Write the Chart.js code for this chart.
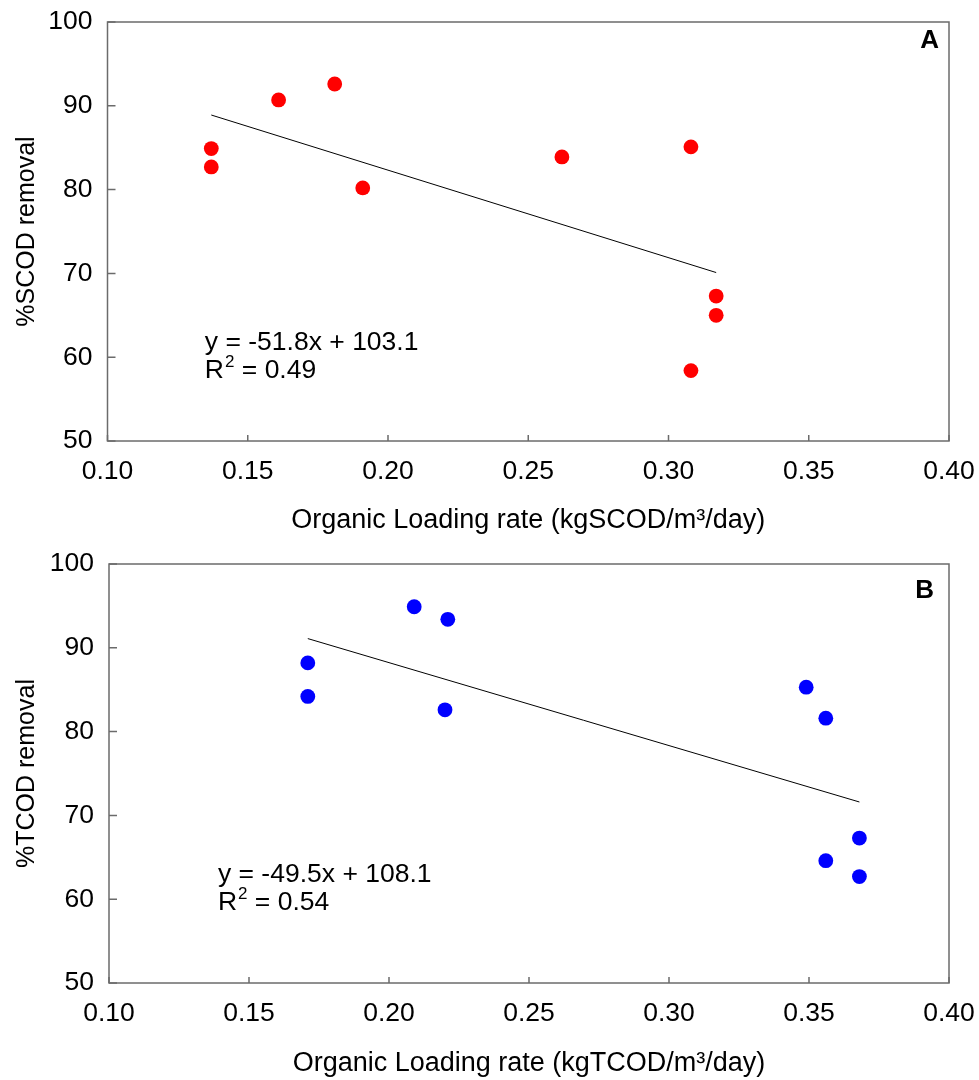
<!DOCTYPE html>
<html>
<head>
<meta charset="utf-8">
<script src="https://cdn.jsdelivr.net/npm/chart.js@4/dist/chart.umd.min.js"></script>
<style>
  body { margin: 0; background: #fff; }
  .wrap { position: absolute; left: 0; width: 979px; height: 540px; }
</style>
</head>
<body>
<div class="wrap" style="top:0"><canvas id="chartA" width="979" height="540"></canvas></div>
<div class="wrap" style="top:540px"><canvas id="chartB" width="979" height="540"></canvas></div>
<script>
// valores
const xTicks = [0.10, 0.15, 0.20, 0.25, 0.30, 0.35, 0.40];
const yTicks = [50, 60, 70, 80, 90, 100];

// painel A - SCOD
const olrA = [0.137, 0.137, 0.161, 0.181, 0.191, 0.262, 0.308, 0.317, 0.317, 0.308];
const remocaoA = [84.9, 82.7, 90.7, 92.6, 80.2, 83.9, 85.1, 67.3, 65.0, 58.4];
const trendAx = [0.137, 0.317];
const trendAy = [88.9, 70.1];

// painel B - TCOD
const olrB = [0.171, 0.171, 0.209, 0.221, 0.220, 0.349, 0.356, 0.368, 0.356, 0.368];
const remocaoB = [88.2, 84.2, 94.9, 93.4, 82.6, 85.3, 81.6, 67.3, 64.6, 62.7];
const trendBx = [0.171, 0.368];
const trendBy = [91.1, 71.6];

const FONT = "'Liberation Sans', Arial, sans-serif";
const AXIS_COLOR = '#6b6b6b';

function noOverflow(s) {
  s.paddingLeft = 0;
  s.paddingRight = 0;
  s.paddingTop = 0;
  s.paddingBottom = 0;
}

const frameTicks = {
  id: 'frameTicks',
  afterDraw(chart, args, opts) {
    const { ctx, chartArea: a, scales } = chart;
    ctx.save();
    ctx.strokeStyle = AXIS_COLOR;
    ctx.lineWidth = 1.5;
    ctx.strokeRect(a.left, a.top, a.right - a.left, a.bottom - a.top);
    ctx.beginPath();
    scales.x.ticks.forEach((t) => {
      const px = scales.x.getPixelForValue(t.value);
      ctx.moveTo(px, a.bottom);
      ctx.lineTo(px, a.bottom - 6);
    });
    scales.y.ticks.forEach((t) => {
      const py = scales.y.getPixelForValue(t.value);
      ctx.moveTo(a.left, py);
      ctx.lineTo(a.left + 8, py);
    });
    ctx.stroke();

    // equação e R2
    ctx.fillStyle = '#000';
    ctx.font = `26.5px ${FONT}`;
    ctx.textAlign = 'left';
    ctx.textBaseline = 'alphabetic';
    const ex = scales.x.getPixelForValue(opts.eqAt[0]);
    const ey = scales.y.getPixelForValue(opts.eqAt[1]);
    ctx.fillText(opts.equation, ex, ey);
    ctx.fillText('R', ex, ey + 28);
    const rw = ctx.measureText('R').width;
    ctx.font = `17px ${FONT}`;
    ctx.fillText('2', ex + rw + 1, ey + 17);
    const sw = ctx.measureText('2').width;
    ctx.font = `26.5px ${FONT}`;
    ctx.fillText(' = ' + opts.r2, ex + rw + sw + 1, ey + 28);

    // letra do painel
    ctx.font = `bold 26px ${FONT}`;
    ctx.textAlign = 'right';
    ctx.textBaseline = 'top';
    ctx.fillText(opts.letter, a.right - opts.letterDx, a.top + opts.letterDy);
    ctx.restore();
  },
};

function makeChart(canvasId, xs, ys, tx, ty, color, opts) {
  const ctx = document.getElementById(canvasId).getContext('2d');
  return new Chart(ctx, {
    type: 'scatter',
    data: {
      datasets: [
        {
          data: xs.map((x, i) => ({ x, y: ys[i] })),
          backgroundColor: color,
          borderWidth: 0,
          pointRadius: 7.4,
        },
        {
          type: 'line',
          data: tx.map((x, i) => ({ x, y: ty[i] })),
          borderColor: '#000',
          borderWidth: 1,
          pointRadius: 0,
          fill: false,
        },
      ],
    },
    options: {
      responsive: false,
      animation: false,
      events: [],
      layout: { padding: { top: opts.top, right: 30, left: 0, bottom: 0 } },
      plugins: {
        legend: { display: false },
        tooltip: { enabled: false },
        frameTicks: opts.frame,
      },
      scales: {
        x: {
          type: 'linear',
          min: 0.1,
          max: 0.4,
          afterBuildTicks: (s) => { s.ticks = xTicks.map((v) => ({ value: v })); },
          afterFit: (s) => { s.height = opts.xHeight; noOverflow(s); },
          grid: { drawOnChartArea: false, drawTicks: false },
          border: { display: false },
          ticks: {
            padding: 15,
            color: '#000',
            font: { family: FONT, size: 26.5 },
            callback: (v) => Number(v).toFixed(2),
          },
          title: {
            display: true,
            text: opts.xTitle,
            color: '#000',
            font: { family: FONT, size: 27 },
            padding: { top: 0, bottom: opts.xTitlePad },
          },
        },
        y: {
          type: 'linear',
          min: 50,
          max: 100,
          afterBuildTicks: (s) => { s.ticks = yTicks.map((v) => ({ value: v })); },
          afterFit: (s) => { s.width = opts.yWidth; noOverflow(s); },
          grid: { drawOnChartArea: false, drawTicks: false },
          border: { display: false },
          ticks: {
            padding: 15,
            color: '#000',
            font: { family: FONT, size: 26.5 },
            callback: (v) => String(v),
          },
          title: {
            display: true,
            text: opts.yTitle,
            color: '#000',
            font: { family: FONT, size: 25 },
            padding: { top: 12, bottom: 0 },
          },
        },
      },
    },
    plugins: [frameTicks],
  });
}

makeChart('chartA', olrA, remocaoA, trendAx, trendAy, '#ff0000', {
  top: 22, xHeight: 99, yWidth: 107.5, xTitlePad: 3,
  xTitle: 'Organic Loading rate (kgSCOD/m³/day)',
  yTitle: '%SCOD removal',
  frame: { equation: 'y = -51.8x + 103.1', r2: '0.49', eqAt: [0.1347, 60.9], letter: 'A', letterDx: 10, letterDy: 6 },
});

makeChart('chartB', olrB, remocaoB, trendBx, trendBy, '#0000ff', {
  top: 24, xHeight: 97, yWidth: 109, xTitlePad: 0,
  xTitle: 'Organic Loading rate (kgTCOD/m³/day)',
  yTitle: '%TCOD removal',
  frame: { equation: 'y = -49.5x + 108.1', r2: '0.54', eqAt: [0.1389, 62.1], letter: 'B', letterDx: 15, letterDy: 14 },
});
</script>
</body>
</html>
